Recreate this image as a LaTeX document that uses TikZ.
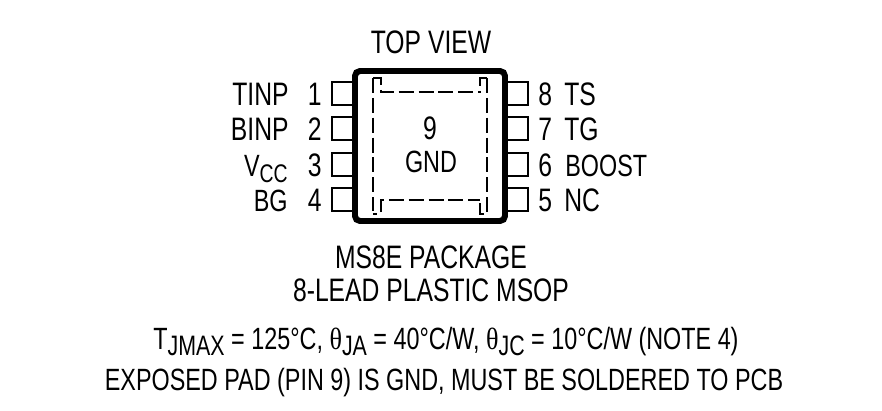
\documentclass[tikz,border=0pt]{standalone}
\usepackage{fontspec}
\usepackage{tikz}
\setmainfont[FakeStretch=0.76]{Liberation Sans}
\newfontfamily\symbfont[FakeStretch=0.85]{Liberation Serif}
\tikzset{lbl/.style = {anchor = base, inner sep = 0, font = \fontsize{18.5}{20}\selectfont}}
\tikzset{lblr/.style = {lbl, anchor = base east}}
\tikzset{lbll/.style = {lbl, anchor = base west}}
\tikzset{notelbl/.style = {anchor = base, inner sep = 0, font = \fontsize{17.5}{20}\selectfont}}
\tikzset{pinbox/.style = {line width = 1.7*0.5669pt}}
\tikzset{padline/.style = {line width = 1.3*0.5669pt, dash pattern = on 8.5pt off 2.8pt}}
\tikzset{padfoot/.style = {line width = 1.3*0.5669pt}}
\newcommand{\subtxt}[1]{\raisebox{-0.2em}{\fontsize{16}{16}\selectfont #1}}
\newcommand{\subpin}[1]{\raisebox{-0.2em}{\fontsize{14.5}{14.5}\selectfont #1}}
\begin{document}
\begin{tikzpicture}[x=0.02cm, y=-0.02cm]
      \useasboundingbox (0, 0) rectangle (882, 410);
      % pins
      \draw [pinbox] (352, 82) -- (332, 82) -- (332, 105) -- (352, 105);
      \draw [pinbox] (352, 117) -- (332, 117) -- (332, 140) -- (352, 140);
      \draw [pinbox] (352, 153) -- (332, 153) -- (332, 176) -- (352, 176);
      \draw [pinbox] (352, 188) -- (332, 188) -- (332, 211) -- (352, 211);
      \draw [pinbox] (508, 82) -- (528, 82) -- (528, 105) -- (508, 105);
      \draw [pinbox] (508, 117) -- (528, 117) -- (528, 140) -- (508, 140);
      \draw [pinbox] (508, 153) -- (528, 153) -- (528, 176) -- (508, 176);
      \draw [pinbox] (508, 188) -- (528, 188) -- (528, 211) -- (508, 211);
      % package
      \draw [line width = 6*0.5669pt, rounded corners = 5*0.5669pt] (355, 71) rectangle (505, 221);
      % exposed pad
      \draw [padline] (373, 78) -- (373, 211);
      \draw [padfoot] (373, 214) -- (377, 214);
      \draw [padline] (487, 78) -- (487, 214) -- (480, 214) -- (480, 200);
      \draw [padline] (373, 78) -- (381, 78) -- (381, 92) -- (481, 92);
      \draw [padline] (487, 78) -- (480, 78) -- (480, 92);
      \draw [padline] (381, 212) -- (381, 200) -- (480, 200);
      % labels
      \node [lbl] (title) at (431, 53) {TOP VIEW};
      \node [lbl] (padnum) at (430, 139) {9};
      \node [notelbl] (padname) at (431, 172) {GND};
      \node [lblr] (tinp) at (289, 105) {TINP};
      \node [lblr] (binp) at (289, 140) {BINP};
      \node [notelbl, anchor = base east] (vcc) at (288, 176) {V\subpin{CC}};
      \node [notelbl, anchor = base east] (bg) at (288, 211) {BG};
      \node [lblr] (one) at (322, 105) {1};
      \node [lblr] (two) at (322, 140) {2};
      \node [lblr] (three) at (322, 176) {3};
      \node [lblr] (four) at (322, 211) {4};
      \node [lbll] (eight) at (538, 105) {8};
      \node [lbll] (seven) at (538, 140) {7};
      \node [lbll] (six) at (538, 176) {6};
      \node [lbll] (five) at (538, 211) {5};
      \node [lbll] (ts) at (564, 105) {TS};
      \node [lbll] (tg) at (564, 140) {TG};
      \node [notelbl, anchor = base west] (boost) at (565, 176) {BOOST};
      \node [lbll] (nc) at (564, 211) {NC};
      \node [lbl] (pkg) at (431, 268) {MS8E PACKAGE};
      \node [lbl] (lead) at (431, 301) {8-LEAD PLASTIC MSOP};
      \node [notelbl] (therm) at (446, 349) {T\subtxt{JMAX} = 125°C, {\symbfont θ}\subtxt{JA} = 40°C/W, {\symbfont θ}\subtxt{JC} = 10°C/W (NOTE 4)};
      \node [notelbl] (note) at (444, 390) {EXPOSED PAD (PIN 9) IS GND, MUST BE SOLDERED TO PCB};
    \end{tikzpicture}
\end{document}
